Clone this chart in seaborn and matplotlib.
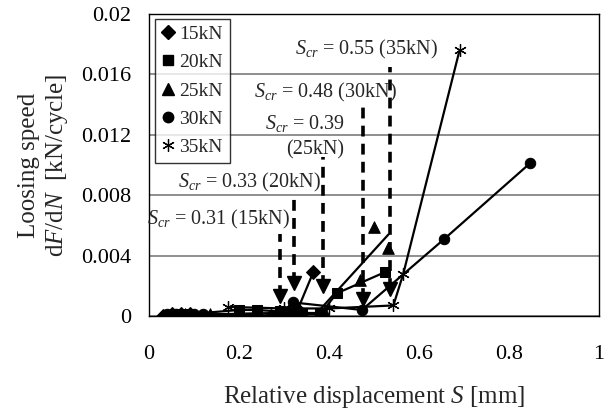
import matplotlib
matplotlib.use("Agg")
import matplotlib.pyplot as plt
from matplotlib.lines import Line2D
import seaborn as sns

# --- data ---
s_15 = [0.03, 0.05, 0.07, 0.09, 0.27, 0.31, 0.33, 0.365]
v_15 = [0.0000, 0.0001, 0.0001, 0.0001, 0.0000, 0.0002, 0.0004, 0.0029]

s_20 = [0.04, 0.06, 0.08, 0.20, 0.24, 0.29, 0.34, 0.38, 0.417, 0.524]
v_20 = [0.0000, 0.0001, 0.0001, 0.0004, 0.0004, 0.0003, 0.0001, 0.0001, 0.0015, 0.0029]

s_25 = [0.03, 0.08, 0.136, 0.33, 0.39, 0.469, 0.50, 0.53]
v_25 = [0.0000, 0.0001, 0.0001, 0.0002, 0.0002, 0.0024, 0.0059, 0.0045]
fit25_s = [0.37, 0.532]
fit25_v = [0.0001, 0.0054]

s_30 = [0.04, 0.06, 0.10, 0.12, 0.30, 0.32, 0.473, 0.656, 0.846]
v_30 = [0.0001, 0.0001, 0.0001, 0.0001, 0.0002, 0.0009, 0.0004, 0.0051, 0.0101]

s_35 = [0.176, 0.30, 0.40, 0.543, 0.565, 0.69]
v_35 = [0.0006, 0.0005, 0.0005, 0.0007, 0.0028, 0.0176]

series_labels = ["15kN", "20kN", "25kN", "30kN", "35kN"]

# critical displacement markers (dashed arrows)
scr_pos = [0.291, 0.322, 0.387, 0.476, 0.536]
scr_top = [0.0054, 0.0078, 0.0105, 0.0140, 0.0165]
scr_head = [0.0013, 0.0022, 0.0020, 0.0011, 0.0018]

# annotation texts and where they sit
scr_texts = [r"$S_{cr}$ = 0.31 (15kN)", r"$S_{cr}$ = 0.33 (20kN)", r"$S_{cr}$ = 0.39",
             "(25kN)", r"$S_{cr}$ = 0.48 (30kN)", r"$S_{cr}$ = 0.55 (35kN)"]
text_s = [0.155, 0.224, 0.347, 0.369, 0.393, 0.484]
text_v = [0.00636, 0.00887, 0.01272, 0.0110, 0.01483, 0.01762]

x_ticks = [0, 0.2, 0.4, 0.6, 0.8, 1.0]
x_ticklabels = ["0", "0.2", "0.4", "0.6", "0.8", "1"]
y_ticks = [0, 0.004, 0.008, 0.012, 0.016, 0.02]
y_ticklabels = ["0", "0.004", "0.008", "0.012", "0.016", "0.02"]

sns.set_style("white")
plt.rcParams["font.family"] = ["Liberation Serif", "DejaVu Serif"]
plt.rcParams["mathtext.fontset"] = "custom"
plt.rcParams["mathtext.rm"] = "Liberation Serif"
plt.rcParams["mathtext.it"] = "Liberation Serif:italic"

fig = plt.figure(figsize=(6.09, 4.12), dpi=100)
ax = fig.add_axes([0.2447, 0.233, 0.739, 0.733])

asterisk = (6, 2, 0)
style = dict(color="black", lw=1.6, sort=False, estimator=None, ax=ax,
             markeredgecolor="black", markerfacecolor="black")

sns.lineplot(x=s_15, y=v_15, marker="D", markersize=7, **style)
sns.lineplot(x=s_20, y=v_20, marker="s", markersize=7, **style)
sns.scatterplot(x=s_25, y=v_25, marker="^", s=70, color="black", edgecolor="black", ax=ax, zorder=3)
sns.lineplot(x=s_25[:5], y=v_25[:5], **style)
sns.lineplot(x=fit25_s, y=fit25_v, color="black", lw=1.6, sort=False, estimator=None, ax=ax)
sns.lineplot(x=s_30, y=v_30, marker="o", markersize=7.5, **style)
sns.lineplot(x=s_35, y=v_35, marker=asterisk, markersize=9, markeredgewidth=0.9, **style)

# dashed arrows for S_cr
ax.vlines(scr_pos, scr_head, scr_top, colors="black", linestyles=(0, (3, 2)), lw=2.6, zorder=4)
ax.plot(scr_pos, scr_head, linestyle="none", marker="v", markersize=10, color="black", zorder=5)

for txt, xs, yv in zip(scr_texts, text_s, text_v):
    ax.text(xs, yv, txt, ha="center", va="center", fontsize=14.5, zorder=6)

ax.set_xlim(0, 1)
ax.set_ylim(0, 0.02)
ax.set_xticks(x_ticks)
ax.set_xticklabels(x_ticklabels)
ax.set_yticks(y_ticks)
ax.set_yticklabels(y_ticklabels)
ax.tick_params(direction="in", length=4, labelsize=16, colors="black")
ax.tick_params(axis="x", pad=21)
ax.tick_params(axis="y", pad=13)
ax.yaxis.grid(True, color="#707070", lw=1.1)
ax.set_axisbelow(True)
for sp in ax.spines.values():
    sp.set_color("black")
    sp.set_linewidth(1.0)

ax.set_xlabel(r"Relative displacement $S$ [mm]", fontsize=18, labelpad=14)
ax.set_ylabel("Loosing speed\n" + r"d$F$/d$N$  [kN/cycle]", fontsize=18, labelpad=8,
              multialignment="center")

handles = [
    Line2D([], [], ls="none", marker="D", markersize=7, color="black"),
    Line2D([], [], ls="none", marker="s", markersize=7, color="black"),
    Line2D([], [], ls="none", marker="^", markersize=8.5, color="black"),
    Line2D([], [], ls="none", marker="o", markersize=7.5, color="black"),
    Line2D([], [], ls="none", marker=asterisk, markersize=9, color="black", markeredgewidth=0.9),
]
leg = ax.legend(handles, series_labels, loc="upper left", bbox_to_anchor=(0.013, 0.985),
                fontsize=14, frameon=True, fancybox=False, edgecolor="black",
                handlelength=0.6, handletextpad=0.3, labelspacing=0.55, borderpad=0.35,
                borderaxespad=0.0)
leg.get_frame().set_linewidth(1.0)
leg.set_zorder(10)

fig.savefig("out.png", dpi=100)
